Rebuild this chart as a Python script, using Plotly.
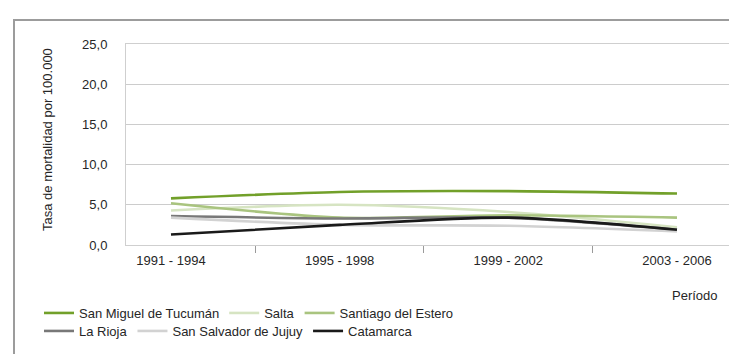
import plotly.graph_objects as go

periods = ["1991 - 1994", "1995 - 1998", "1999 - 2002", "2003 - 2006"]
x_pos = [0, 1, 2, 3]

tucuman = [5.8, 6.6, 6.7, 6.4]
salta = [4.3, 5.0, 4.1, 2.2]
santiago = [5.2, 3.4, 3.7, 3.4]
la_rioja = [3.6, 3.3, 3.4, 1.9]
jujuy = [3.4, 2.5, 2.4, 1.7]
catamarca = [1.3, 2.5, 3.4, 1.9]

y_ticks = [0, 5, 10, 15, 20, 25]

series = [
    ("San Miguel de Tucumán", tucuman, "#72a02a", "legend"),
    ("Salta", salta, "#d6e4c2", "legend"),
    ("Santiago del Estero", santiago, "#a9c47f", "legend"),
    ("La Rioja", la_rioja, "#787878", "legend2"),
    ("San Salvador de Jujuy", jujuy, "#d2d2d2", "legend2"),
    ("Catamarca", catamarca, "#1a1a1a", "legend2"),
]

FONT = "Liberation Sans, Arial, sans-serif"
TXT = "#262626"
FS = 13

fig = go.Figure()
for name, vals, color, lg in series:
    fig.add_trace(go.Scatter(
        x=x_pos, y=vals, name=name, mode="lines",
        line=dict(color=color, width=2.6, shape="spline", smoothing=0.8),
        legend=lg,
    ))

W, H = 737, 354
L, R, T, B = 118, 7, 36, 117
pw, ph = W - L - R, H - T - B

def px(xp):
    return (xp - L) / pw

def py(yp):
    return (H - B - yp) / ph

fig.update_layout(
    width=W, height=H,
    margin=dict(l=L, r=R, t=T, b=B),
    paper_bgcolor="white", plot_bgcolor="white",
    separators=",.",
    font=dict(family=FONT, size=FS, color=TXT),
    xaxis=dict(
        range=[-0.2667, 3.3617],
        tickvals=x_pos, ticktext=periods,
        ticks="outside", ticklen=1, tickcolor="rgba(0,0,0,0)",
        showgrid=False, zeroline=False,
        showline=True, linecolor="#cfcfcf", linewidth=1, mirror=True,
        minor=dict(tick0=0.5, dtick=1, ticks="outside", ticklen=7,
                   tickcolor="#9a9a9a", tickwidth=1, showgrid=False),
        tickfont=dict(size=FS, color=TXT),
        ticklabelstandoff=2,
        fixedrange=True,
    ),
    yaxis=dict(
        range=[0, 25], tickvals=y_ticks, tickformat=".1f",
        showgrid=True, gridcolor="#cccccc", gridwidth=1,
        zeroline=False, showline=True, linecolor="#cfcfcf", linewidth=1,
        mirror=True, ticks="",
        tickfont=dict(size=FS, color=TXT),
        ticklabelstandoff=15,
        fixedrange=True,
    ),
    legend=dict(orientation="h", x=px(31), xanchor="left",
                y=py(305), yanchor="middle",
                font=dict(size=FS, color=TXT), bgcolor="rgba(0,0,0,0)",
                tracegroupgap=0),
    legend2=dict(orientation="h", x=px(31), xanchor="left",
                 y=py(323), yanchor="middle",
                 font=dict(size=FS, color=TXT), bgcolor="rgba(0,0,0,0)",
                 tracegroupgap=0),
    showlegend=True,
)

fig.add_annotation(text="Tasa de mortalidad por 100.000", textangle=-90,
                   xref="paper", yref="paper", x=px(39), y=py(131),
                   xanchor="center", yanchor="middle", showarrow=False,
                   font=dict(size=FS, color=TXT))

fig.add_annotation(text="Período", xref="paper", yref="paper",
                   x=px(712), y=py(287), xanchor="right", yanchor="middle",
                   showarrow=False, font=dict(size=FS, color=TXT))

# outer frame
fig.add_shape(type="line", xref="paper", yref="paper",
              x0=px(5), x1=px(737), y0=py(12), y1=py(12),
              line=dict(color="#9c9c9c", width=2))
fig.add_shape(type="line", xref="paper", yref="paper",
              x0=px(6), x1=px(6), y0=py(11), y1=py(354),
              line=dict(color="#9c9c9c", width=2))

fig.write_html("out.html")
